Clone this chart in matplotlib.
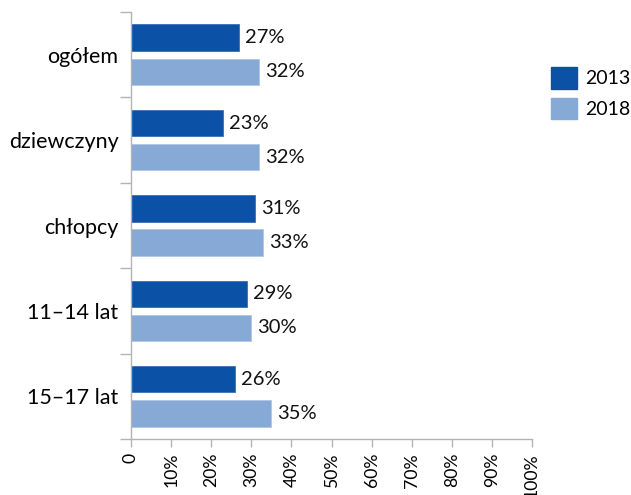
import matplotlib
matplotlib.use("Agg")
import matplotlib.pyplot as plt
import numpy as np
from matplotlib.patches import Patch

plt.rcParams['font.family'] = ['Lato', 'DejaVu Sans']

categories = ["ogółem", "dziewczyny", "chłopcy", "11–14 lat", "15–17 lat"]
v2013 = [27, 23, 31, 29, 26]
v2018 = [32, 32, 33, 30, 35]
series = ["2013", "2018"]
xticks = [0, 10, 20, 30, 40, 50, 60, 70, 80, 90, 100]
xticklabels = ["0"] + [f"{t}%" for t in xticks[1:]]

c13 = "#0b52a7"
c18 = "#86a9d5"
grey = "#b3b3b3"

fig = plt.figure(figsize=(6.31, 4.95), dpi=100)
ax = fig.add_axes([131/631, 1 - 439/495, (532 - 131)/631, (439 - 12)/495])

y = np.arange(len(categories))
h = 0.31
off = 0.2
ax.barh(y - off, v2013, height=h, color=c13, edgecolor="#3d6fb5", linewidth=0.6)
ax.barh(y + off, v2018, height=h, color=c18, edgecolor="#b0c7e6", linewidth=0.6)

for yi, v in zip(y, v2013):
    ax.text(v + 1.5, yi - off, f"{v}%", va="center", ha="left", fontsize=14.5, color="#111111")
for yi, v in zip(y, v2018):
    ax.text(v + 1.5, yi + off, f"{v}%", va="center", ha="left", fontsize=14.5, color="#111111")

ax.set_xlim(0, 100)
ax.set_ylim(len(categories) - 0.5, -0.5)
ax.set_xticks(xticks)
ax.set_xticklabels(xticklabels, rotation=90, fontsize=12.7)
ax.set_yticks(y)
ax.set_yticklabels(categories, fontsize=15.5)
ax.set_yticks(np.arange(len(categories) + 1) - 0.5, minor=True)
ax.tick_params(axis='y', which='major', length=0, pad=9)
ax.tick_params(axis='y', which='minor', length=8, color=grey, width=1)
ax.tick_params(axis='x', which='major', length=6, color=grey, width=1, pad=4)

for s in ["top", "right"]:
    ax.spines[s].set_visible(False)
for s in ["left", "bottom"]:
    ax.spines[s].set_color(grey)
    ax.spines[s].set_linewidth(1)

handles = [Patch(facecolor=c13, edgecolor=c13), Patch(facecolor=c18, edgecolor=c18)]
fig.legend(handles, series, loc="upper left", bbox_to_anchor=(551/631, 1 - 67/495),
           frameon=False, fontsize=14, handlelength=1.35, handleheight=1.35,
           handletextpad=0.4, labelspacing=0.45, borderpad=0, borderaxespad=0)

fig.savefig("out.png", dpi=100)
